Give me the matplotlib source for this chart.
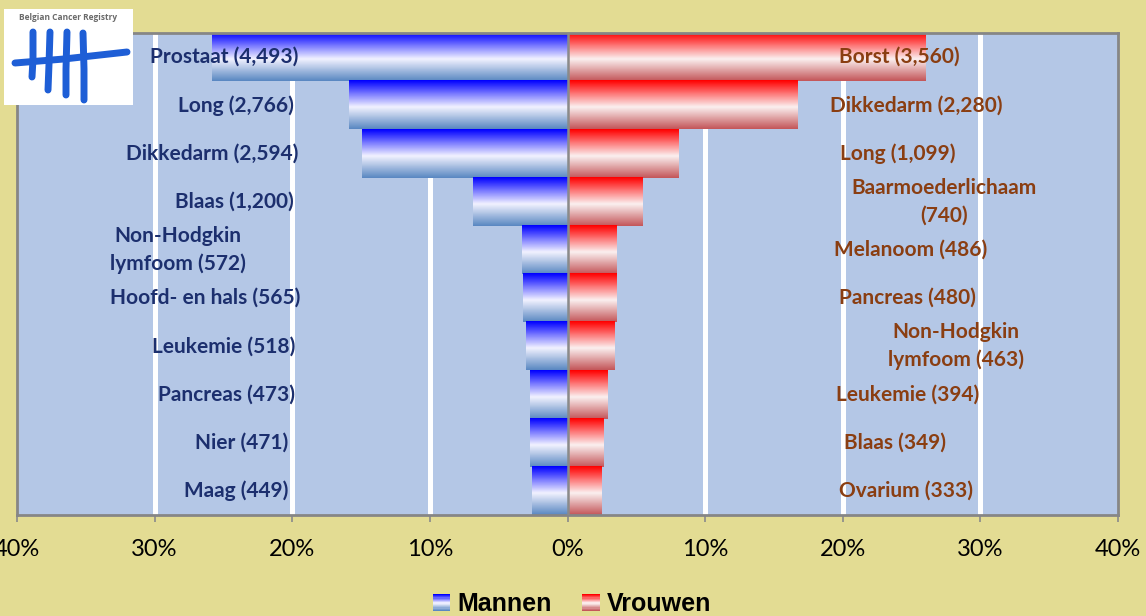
import numpy as np
import matplotlib
matplotlib.use("Agg")
import matplotlib.pyplot as plt
from matplotlib.colors import LinearSegmentedColormap
from matplotlib.patches import Rectangle, Patch
from matplotlib.legend_handler import HandlerBase

# data (percent of all cancers per sex, Belgium)
men_labels = ["Prostaat (4,493)", "Long (2,766)", "Dikkedarm (2,594)", "Blaas (1,200)",
              "Non-Hodgkin\nlymfoom (572)", "Hoofd- en hals (565)", "Leukemie (518)",
              "Pancreas (473)", "Nier (471)", "Maag (449)"]
men_pct = [25.8, 15.9, 14.9, 6.9, 3.3, 3.25, 3.0, 2.72, 2.71, 2.58]

women_labels = ["Borst (3,560)", "Dikkedarm (2,280)", "Long (1,099)", "Baarmoederlichaam\n(740)",
                "Melanoom (486)", "Pancreas (480)", "Non-Hodgkin\nlymfoom (463)",
                "Leukemie (394)", "Blaas (349)", "Ovarium (333)"]
women_pct = [26.0, 16.65, 8.0, 5.4, 3.55, 3.5, 3.38, 2.88, 2.55, 2.43]

x_ticks = [-40, -30, -20, -10, 0, 10, 20, 30, 40]
x_ticklabels = ["40%", "30%", "20%", "10%", "0%", "10%", "20%", "30%", "40%"]
legend_labels = ["Mannen", "Vrouwen"]

# label anchor positions (in % units), manual placement like the original
men_label_x = [-19.55, -19.9, -19.55, -19.9, -23.4, -19.4, -19.8, -19.8, -20.3, -20.3]
women_label_x = [19.7, 19.1, 19.8, 20.6, 19.4, 19.7, 23.3, 19.5, 20.1, 19.7]

BG = "#E3DC93"
PLOT_BG = "#B4C7E6"
BLUE_TXT = "#1C2F6E"
BROWN_TXT = "#8A3E12"

blue_cmap = LinearSegmentedColormap.from_list(
    "blue_grad", [(0, "#0000FF"), (0.55, "#F2F2FF"), (1, "#5A88C2")])
red_cmap = LinearSegmentedColormap.from_list(
    "red_grad", [(0, "#FF0000"), (0.55, "#FBF0F0"), (1, "#C4575A")])


def gradient_fill(ax, bars, cmap):
    grad = cmap(np.linspace(0, 1, 64))[:, None, :]
    for b in bars:
        b.set_alpha(0)
        x0, w = b.get_x(), b.get_width()
        y0, h = b.get_y(), b.get_height()
        ax.imshow(grad, extent=(x0, x0 + w, y0 + h, y0), origin="upper",
                  aspect="auto", interpolation="bilinear", zorder=2)


class GradientHandler(HandlerBase):
    def __init__(self, cmap):
        super().__init__()
        self.cmap = cmap

    def create_artists(self, legend, orig_handle, xdescent, ydescent,
                       width, height, fontsize, trans):
        n = 14
        arts = []
        for i in range(n):
            r = Rectangle((-xdescent, -ydescent + height * (1 - (i + 1) / n)),
                          width, height / n, facecolor=self.cmap(i / (n - 1)),
                          edgecolor="none", transform=trans)
            arts.append(r)
        return arts


plt.rcParams["font.family"] = ["Lato", "DejaVu Sans"]

fig = plt.figure(figsize=(11.46, 6.16), dpi=100, facecolor=BG)
ax = fig.add_axes([17 / 1146, 101 / 616, 1101 / 1146, 482 / 616])
ax.set_facecolor(PLOT_BG)

y = np.arange(len(men_pct))
men_bars = ax.barh(y, [-v for v in men_pct], height=1.0, color="blue", zorder=2)
women_bars = ax.barh(y, women_pct, height=1.0, color="red", zorder=2)
gradient_fill(ax, men_bars, blue_cmap)
gradient_fill(ax, women_bars, red_cmap)

for xv in x_ticks:
    if xv not in (-40, 0, 40):
        ax.axvline(xv, color="white", lw=3.6, zorder=1)
ax.axvline(0, color="#8A8A8A", lw=1.8, zorder=3)

for i, (lab, lx) in enumerate(zip(men_labels, men_label_x)):
    ax.text(lx, i, lab, ha="right", va="center", multialignment="center",
            color=BLUE_TXT, fontsize=15, fontweight="bold", linespacing=1.45, zorder=4)
for i, (lab, lx) in enumerate(zip(women_labels, women_label_x)):
    ax.text(lx, i, lab, ha="left", va="center", multialignment="center",
            color=BROWN_TXT, fontsize=15, fontweight="bold", linespacing=1.45, zorder=4)

ax.set_xlim(-40, 40)
ax.set_ylim(len(men_pct) - 0.5, -0.5)
ax.set_xticks(x_ticks)
ax.set_xticklabels(x_ticklabels)
ax.set_yticks([])
ax.tick_params(axis="x", direction="out", length=5, width=1.2, color="#8A8A8A",
               pad=12, labelsize=17, labelcolor="black")
for s in ax.spines.values():
    s.set_color("#868686")
    s.set_linewidth(2)

# legend
h_m = Patch(label=legend_labels[0])
h_w = Patch(label=legend_labels[1])
leg = fig.legend([h_m, h_w], legend_labels, loc="center",
                 bbox_to_anchor=(572 / 1146, 1 - 604 / 616), ncol=2, frameon=False,
                 handler_map={h_m: GradientHandler(blue_cmap), h_w: GradientHandler(red_cmap)},
                 handlelength=0.7, handleheight=0.7, handletextpad=0.3,
                 columnspacing=1.2,
                 prop={"family": "Liberation Sans", "weight": "bold", "size": 18})

# registry logo
lg = fig.add_axes([4 / 1146, 1 - 105 / 616, 129 / 1146, 96 / 616])
lg.set_facecolor("white")
lg.set_xlim(0, 129)
lg.set_ylim(96, 0)
lg.set_xticks([])
lg.set_yticks([])
for s in lg.spines.values():
    s.set_visible(False)
lg.text(64, 9, "Belgian Cancer Registry", ha="center", va="center",
        fontsize=6, fontweight="bold", color="#6B6B6B", family="Open Sans")
logo_blue = "#1E5ED6"
for xs, ys in [([29, 29, 28], [23, 50, 68]), ([46, 45, 44], [23, 55, 81]),
               ([63, 62, 62], [23, 60, 86]), ([79, 80, 80], [24, 60, 91]),
               ([11, 60, 123], [54, 50, 43])]:
    lg.plot(xs, ys, color=logo_blue, lw=5, solid_capstyle="round")

fig.savefig("out.png", dpi=100, facecolor=BG)
